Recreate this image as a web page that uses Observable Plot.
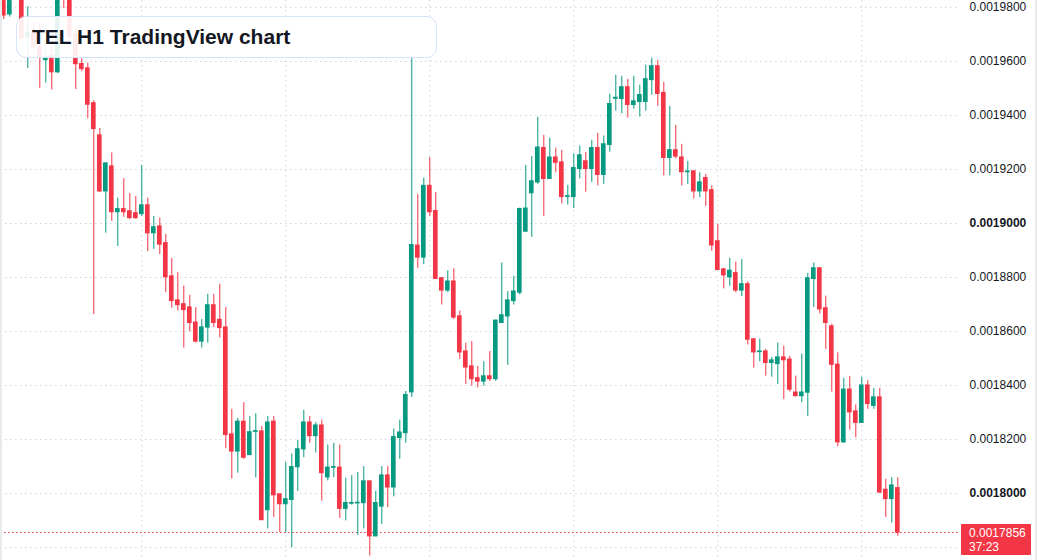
<!DOCTYPE html>
<html>
<head>
<meta charset="utf-8">
<script src="https://cdn.jsdelivr.net/npm/d3@7"></script>
<script src="https://cdn.jsdelivr.net/npm/@observablehq/plot@0.6"></script>
<style>
  html, body { margin: 0; padding: 0; background: #ffffff; }
  #wrap { position: relative; width: 1037px; height: 560px; overflow: hidden; font-family: "Liberation Sans", Arial, sans-serif; }
  #title { position: absolute; left: 16px; top: 16px; width: 404px; height: 40px; padding-left: 15px;
           border: 1px solid #d6e3fa; border-radius: 10px; background: rgba(255,255,255,0.9);
           font: bold 21px "Liberation Sans", Arial, sans-serif; color: #131722; line-height: 40px; box-sizing: content-box; }
  #tag { position: absolute; left: 961px; width: 70px; height: 31px; background: #f23645; color: #ffffff;
         font: 12px "Liberation Sans", Arial, sans-serif; line-height: 14px; padding: 2px 0 0 8px; box-sizing: border-box; border-radius: 1px; }
  .edge { position: absolute; top: 0; width: 2px; height: 560px; background: #e8e9eb; }
</style>
</head>
<body>
<div id="wrap"></div>
<script>
// Hourly candles (oldest -> newest), prices in TEL quote units
const candleIndex = d3.range(150);
const open = [
0.0019850,0.0019774,0.0019840,0.0019880,0.0019690,0.0019705,0.0019655,0.0019605,0.0019621,0.0019560,
0.0019900,0.0019870,0.0019700,0.0019590,0.0019574,0.0019445,0.0019326,0.0019119,0.0019211,0.0019042,
0.0019053,0.0019045,0.0019038,0.0019035,0.0019067,0.0018964,0.0018989,0.0018927,0.0018804,0.0018715,
0.0018701,0.0018689,0.0018633,0.0018563,0.0018615,0.0018697,0.0018643,0.0018615,0.0018219,0.0018156,
0.0018266,0.0018143,0.0018229,0.0018230,0.0017939,0.0018266,0.0017997,0.0017961,0.0017977,0.0018098,
0.0018164,0.0018263,0.0018213,0.0018252,0.0018060,0.0018096,0.0018096,0.0017944,0.0017963,0.0017964,
0.0017965,0.0018045,0.0017842,0.0017952,0.0018067,0.0018023,0.0018206,0.0018224,0.0018375,0.0018918,
0.0018874,0.0019139,0.0019046,0.0018797,0.0018752,0.0018785,0.0018656,0.0018526,0.0018471,0.0018427,
0.0018415,0.0018434,0.0018424,0.0018632,0.0018656,0.0018713,0.0018744,0.0018970,0.0019112,0.0019152,
0.0019279,0.0019165,0.0019244,0.0019226,0.0019099,0.0019098,0.0019202,0.0019230,0.0019202,0.0019279,
0.0019180,0.0019291,0.0019462,0.0019461,0.0019504,0.0019439,0.0019450,0.0019450,0.0019531,0.0019582,
0.0019483,0.0019243,0.0019271,0.0019244,0.0019190,0.0019193,0.0019119,0.0019168,0.0019123,0.0018934,
0.0018830,0.0018801,0.0018816,0.0018752,0.0018775,0.0018571,0.0018524,0.0018526,0.0018484,0.0018480,
0.0018504,0.0018496,0.0018374,0.0018361,0.0018374,0.0018795,0.0018834,0.0018686,0.0018619,0.0018477,
0.0018190,0.0018385,0.0018304,0.0018262,0.0018400,0.0018325,0.0018356,0.0018014,0.0017980,0.0018020
];
const high = [
0.0019870,0.0019860,0.0019920,0.0019895,0.0019803,0.0019745,0.0019744,0.0019640,0.0019654,0.0019880,
0.0019920,0.0019890,0.0019730,0.0019610,0.0019594,0.0019455,0.0019352,0.0019225,0.0019261,0.0019094,
0.0019166,0.0019111,0.0019100,0.0019215,0.0019094,0.0019026,0.0019020,0.0018960,0.0018871,0.0018818,
0.0018768,0.0018734,0.0018689,0.0018645,0.0018738,0.0018738,0.0018775,0.0018689,0.0018312,0.0018279,
0.0018337,0.0018285,0.0018296,0.0018248,0.0018285,0.0018285,0.0017999,0.0018116,0.0018147,0.0018197,
0.0018308,0.0018285,0.0018263,0.0018272,0.0018180,0.0018186,0.0018180,0.0018057,0.0018067,0.0018078,
0.0018100,0.0018047,0.0018008,0.0018100,0.0018100,0.0018239,0.0018272,0.0018378,0.0019620,0.0019108,
0.0019168,0.0019244,0.0019115,0.0018800,0.0018825,0.0018832,0.0018676,0.0018557,0.0018563,0.0018471,
0.0018488,0.0018526,0.0018643,0.0018854,0.0018748,0.0018805,0.0019057,0.0019215,0.0019248,0.0019393,
0.0019326,0.0019316,0.0019279,0.0019271,0.0019141,0.0019258,0.0019287,0.0019263,0.0019308,0.0019334,
0.0019324,0.0019479,0.0019549,0.0019545,0.0019534,0.0019545,0.0019512,0.0019586,0.0019612,0.0019604,
0.0019522,0.0019434,0.0019363,0.0019293,0.0019230,0.0019195,0.0019188,0.0019182,0.0019139,0.0018998,
0.0018834,0.0018871,0.0018857,0.0018867,0.0018784,0.0018573,0.0018572,0.0018534,0.0018504,0.0018557,
0.0018546,0.0018508,0.0018435,0.0018517,0.0018815,0.0018854,0.0018836,0.0018731,0.0018627,0.0018521,
0.0018427,0.0018434,0.0018328,0.0018431,0.0018418,0.0018389,0.0018389,0.0018053,0.0018059,0.0018059
];
const low = [
0.0019755,0.0019764,0.0019830,0.0019680,0.0019574,0.0019640,0.0019500,0.0019520,0.0019494,0.0019555,
0.0019795,0.0019680,0.0019496,0.0019562,0.0019388,0.0018663,0.0019115,0.0018964,0.0019008,0.0018915,
0.0019023,0.0019015,0.0019016,0.0019026,0.0018896,0.0018904,0.0018885,0.0018744,0.0018686,0.0018676,
0.0018539,0.0018599,0.0018557,0.0018539,0.0018557,0.0018615,0.0018576,0.0018166,0.0018054,0.0018076,
0.0018127,0.0018140,0.0018058,0.0017900,0.0017869,0.0017912,0.0017856,0.0017856,0.0017800,0.0018008,
0.0018133,0.0018186,0.0018150,0.0017972,0.0018047,0.0018059,0.0017908,0.0017899,0.0017957,0.0017846,
0.0017869,0.0017769,0.0017840,0.0017886,0.0017948,0.0017988,0.0018127,0.0018186,0.0018356,0.0018834,
0.0018848,0.0019026,0.0018793,0.0018698,0.0018744,0.0018645,0.0018497,0.0018404,0.0018398,0.0018391,
0.0018398,0.0018415,0.0018415,0.0018630,0.0018475,0.0018698,0.0018735,0.0018968,0.0018949,0.0019145,
0.0019026,0.0019163,0.0019188,0.0019072,0.0019068,0.0019055,0.0019165,0.0019116,0.0019152,0.0019139,
0.0019145,0.0019264,0.0019416,0.0019406,0.0019390,0.0019423,0.0019394,0.0019416,0.0019475,0.0019434,
0.0019176,0.0019176,0.0019239,0.0019139,0.0019145,0.0019091,0.0019095,0.0019063,0.0018897,0.0018826,
0.0018758,0.0018768,0.0018744,0.0018729,0.0018550,0.0018464,0.0018488,0.0018435,0.0018431,0.0018404,
0.0018348,0.0018376,0.0018358,0.0018336,0.0018285,0.0018689,0.0018665,0.0018534,0.0018376,0.0018173,
0.0018186,0.0018235,0.0018206,0.0018260,0.0018312,0.0018312,0.0018001,0.0017912,0.0017891,0.0017842
];
const close = [
0.0019770,0.0019840,0.0019900,0.0019685,0.0019705,0.0019655,0.0019615,0.0019615,0.0019560,0.0019860,
0.0019840,0.0019692,0.0019590,0.0019572,0.0019440,0.0019350,0.0019119,0.0019222,0.0019042,0.0019053,
0.0019042,0.0019020,0.0019020,0.0019067,0.0018964,0.0018986,0.0018922,0.0018801,0.0018713,0.0018698,
0.0018680,0.0018632,0.0018563,0.0018615,0.0018697,0.0018632,0.0018613,0.0018217,0.0018156,0.0018266,
0.0018133,0.0018227,0.0018231,0.0017902,0.0018263,0.0017994,0.0017961,0.0017979,0.0018098,0.0018164,
0.0018263,0.0018213,0.0018252,0.0018076,0.0018096,0.0018098,0.0017944,0.0017965,0.0017965,0.0017966,
0.0018045,0.0017842,0.0017965,0.0018067,0.0018023,0.0018209,0.0018226,0.0018365,0.0018920,0.0018874,
0.0019139,0.0019042,0.0018795,0.0018752,0.0018785,0.0018652,0.0018523,0.0018467,0.0018424,0.0018415,
0.0018434,0.0018424,0.0018640,0.0018660,0.0018715,0.0018748,0.0019053,0.0019055,0.0019156,0.0019281,
0.0019165,0.0019244,0.0019225,0.0019098,0.0019101,0.0019205,0.0019252,0.0019202,0.0019279,0.0019180,
0.0019293,0.0019442,0.0019465,0.0019504,0.0019439,0.0019452,0.0019475,0.0019534,0.0019582,0.0019480,
0.0019243,0.0019271,0.0019248,0.0019190,0.0019192,0.0019119,0.0019152,0.0019119,0.0018919,0.0018828,
0.0018808,0.0018825,0.0018752,0.0018775,0.0018570,0.0018523,0.0018526,0.0018484,0.0018493,0.0018504,
0.0018494,0.0018385,0.0018361,0.0018374,0.0018797,0.0018834,0.0018682,0.0018632,0.0018477,0.0018190,
0.0018385,0.0018301,0.0018262,0.0018400,0.0018332,0.0018356,0.0018004,0.0017980,0.0018030,0.0017856
];
// Day boundaries (candle index where a vertical grid line falls)
const dayLines = [23, 47, 71, 95, 119, 143];
// Horizontal grid levels and the labelled price-axis ticks
const gridLevels = [0.00178, 0.00180, 0.00182, 0.00184, 0.00186, 0.00188, 0.00190, 0.00192, 0.00194, 0.00196, 0.00198];
const yTicks = [0.00180, 0.00182, 0.00184, 0.00186, 0.00188, 0.00190, 0.00192, 0.00194, 0.00196, 0.00198];
const yTickLabels = ["0.0018000","0.0018200","0.0018400","0.0018600","0.0018800","0.0019000","0.0019200","0.0019400","0.0019600","0.0019800"];
const boldLabels = ["0.0018000", "0.0019000"];
const lastPrice = 0.0017856;
const lastPriceLabel = "0.0017856";
const countdown = "37:23";
const titleText = "TEL H1 TradingView chart";

const UP = "#089981", DOWN = "#f23645";
const candles = candleIndex.map(i => ({i, o: open[i], h: high[i], l: low[i], c: close[i]}));
const col = d => d.c >= d.o ? UP : DOWN;

const chart = Plot.plot({
  width: 1037,
  height: 560,
  marginLeft: 0,
  marginRight: 77,
  marginTop: 0,
  marginBottom: 0,
  style: {background: "transparent", fontFamily: "'Liberation Sans', Arial, sans-serif", fontSize: "12px", color: "#131722"},
  x: {domain: [-0.55, 159.45], axis: null},
  y: {domain: [0.00177524, 0.00198255], axis: null},
  marks: [
    Plot.ruleY(gridLevels, {stroke: "#cfd3da", strokeWidth: 1, strokeDasharray: "1.5,3.5"}),
    Plot.ruleX(dayLines, {stroke: "#cfd3da", strokeWidth: 1, strokeDasharray: "1.5,3.5"}),
    Plot.ruleY([lastPrice], {stroke: DOWN, strokeWidth: 1, strokeDasharray: "1.5,2.5"}),
    Plot.ruleX(candles, {x: "i", y1: "l", y2: "h", stroke: col, strokeWidth: 1, clip: true}),
    Plot.rect(candles, {x1: d => d.i - 0.39, x2: d => d.i + 0.39, y1: "o", y2: "c", fill: col,
                        insetTop: -0.6, insetBottom: -0.6, clip: true}),
    Plot.axisY(yTicks, {anchor: "right", tickSize: 0, tickPadding: 9, fontSize: 12, fill: "#131722",
                        tickFormat: (d, k) => yTickLabels[k]})
  ]
});

const wrap = document.getElementById("wrap");
chart.style.position = "absolute";
chart.style.left = "0px";
chart.style.top = "0px";
wrap.appendChild(chart);

d3.select(chart).selectAll("text")
  .filter(function() { return boldLabels.includes(this.textContent); })
  .attr("font-weight", "bold");

// edges
const l = document.createElement("div"); l.className = "edge"; l.style.left = "0px"; wrap.appendChild(l);
const r = document.createElement("div"); r.className = "edge"; r.style.left = "1035px"; wrap.appendChild(r);

// title box
const t = document.createElement("div"); t.id = "title"; t.textContent = titleText; wrap.appendChild(t);

// last price tag positioned from the y scale
const yPos = chart.scale("y").apply(lastPrice);
const tag = document.createElement("div"); tag.id = "tag";
tag.style.top = (yPos - 8) + "px";
tag.innerHTML = lastPriceLabel + "<br>" + countdown;
wrap.appendChild(tag);
</script>
</body>
</html>
